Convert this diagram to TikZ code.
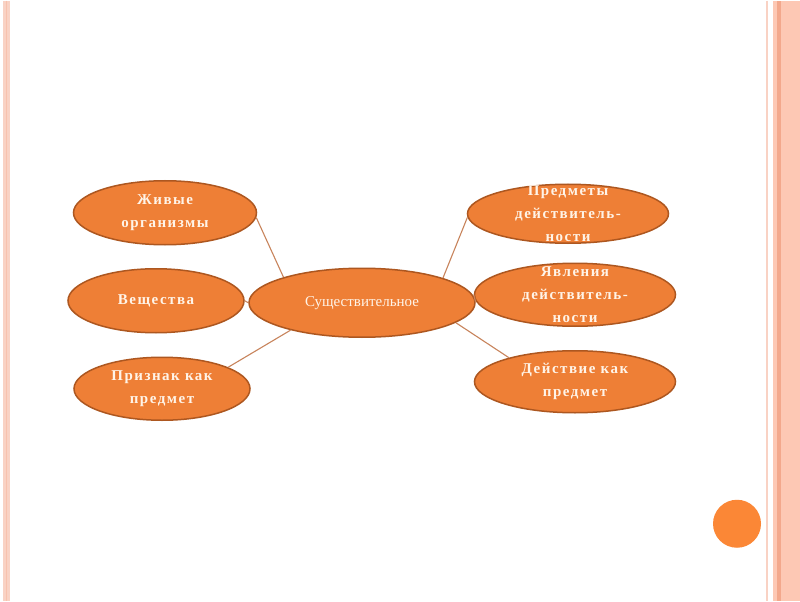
\documentclass[tikz,border=0pt]{standalone}
\usepackage{fontspec}
\setmainfont{Liberation Serif}
\usetikzlibrary{shapes.geometric}
\definecolor{orfill}{HTML}{EE7F36}
\definecolor{ordraw}{HTML}{AD5720}
\definecolor{conn}{HTML}{C8845C}
\definecolor{txt}{HTML}{FFF4E8}
\definecolor{pinkA}{HTML}{F9D2C4}
\definecolor{pinkB}{HTML}{FDC8B4}
\definecolor{pinkC}{HTML}{F3A88C}
\definecolor{dotc}{HTML}{FB8736}
\tikzset{
  leaf/.style={ellipse, fill=orfill, draw=ordraw, line width=1.5pt, text=txt,
    font=\bfseries\fontsize{15}{23}\selectfont\addfontfeature{LetterSpace=10}, align=center,
    inner xsep=0pt, inner ysep=-20pt},
  hub/.style={leaf, font=\fontsize{15}{18}\selectfont, inner ysep=0pt},
  link/.style={draw=conn, line width=1.1pt}
}
\begin{document}
\begin{tikzpicture}[x=1pt,y=-1pt]
\fill[white] (0,0) rectangle (800,600);
% left border
\fill[pinkA] (3,0) rectangle (10,600);
\draw[pinkC!70, line width=1.5pt] (6.5,0) -- (6.5,600);
% right border
\draw[pinkA, line width=1.5pt] (767,0) -- (767,600);
\fill[pinkB] (773,0) rectangle (800,600);
\fill[pinkC] (777,0) rectangle (781,600);
% nodes
\node[hub, minimum width=226pt, minimum height=69pt] (c) at (362,302) {Существительное};
\node[leaf, minimum width=183pt, minimum height=64pt] (zh) at (165,212) {Живые\\организмы};
\node[leaf, minimum width=176pt, minimum height=64pt] (ve) at (156,300) {Вещества};
\node[leaf, minimum width=176pt, minimum height=63pt] (pr) at (162,388) {Признак как\\предмет};
\node[leaf, minimum width=201pt, minimum height=59pt] (pd) at (568,213) {Предметы\\действитель-\\ности};
\node[leaf, minimum width=201pt, minimum height=63pt] (ya) at (575,294) {Явления\\действитель-\\ности};
\node[leaf, minimum width=201pt, minimum height=62pt] (de) at (575,381) {Действие как\\предмет};
\fill[dotc] (737,523) circle (24pt);
% connectors
\draw[link] (zh.-3) -- (c.162);
\draw[link] (ve.east) -- (c.west);
\draw[link] (pr.18) -- (c.201);
\draw[link] (pd.182) -- (c.17);
\draw[link] (c.east) -- (ya.west);
\draw[link] (c.-12) -- (de.160);
\end{tikzpicture}
\end{document}
